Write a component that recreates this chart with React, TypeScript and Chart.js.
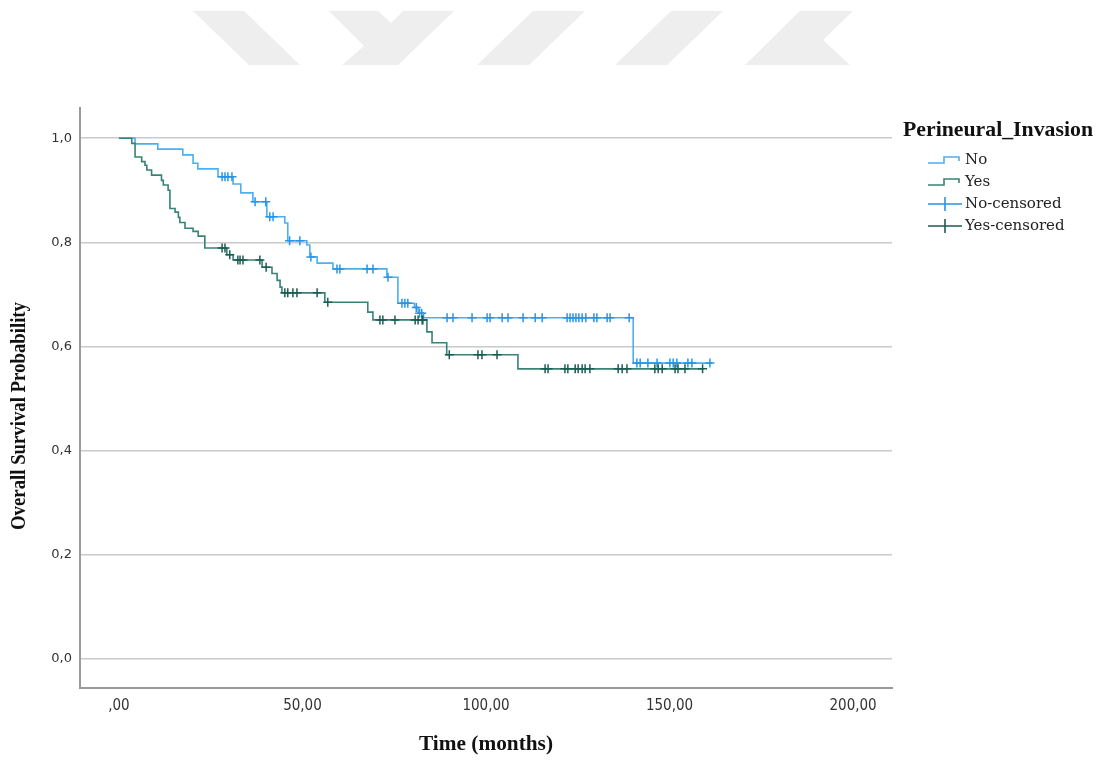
import { useEffect, useRef } from "react";
import { Chart, registerables } from "chart.js";

Chart.register(...registerables);

// ---------- data ----------
const xTickValues = [0, 50, 100, 150, 200];
const xTickLabels = [",00", "50,00", "100,00", "150,00", "200,00"];
const yTickValues = [0, 0.2, 0.4, 0.6, 0.8, 1.0];
const yTickLabels = ["0,0", "0,2", "0,4", "0,6", "0,8", "1,0"];

const legendTitle = "Perineural_Invasion";
const legendLabels = ["No", "Yes", "No-censored", "Yes-censored"];
const xTitle = "Time (months)";
const yTitle = "Overall Survival Probability";

// Kaplan-Meier steps: value after each time
const noTimes = [0, 4.4, 10.6, 17.4, 20.2, 21.5, 27.0, 31.1, 33.2, 36.5, 40.3, 45.2, 46.0, 51.2, 52.0, 54.0, 58.3, 73.0, 76.0, 80.5, 81.5, 83.0, 140.1, 161.6];
const noSurv = [1.0, 0.989, 0.979, 0.968, 0.952, 0.941, 0.926, 0.912, 0.895, 0.878, 0.849, 0.837, 0.803, 0.795, 0.772, 0.76, 0.749, 0.733, 0.683, 0.675, 0.664, 0.655, 0.568, 0.568];
const noCensorTimes = [28.1, 28.9, 29.7, 30.8, 37.1, 40.0, 41.1, 42.0, 46.5, 49.3, 52.3, 59.4, 60.2, 67.6, 69.2, 73.3, 77.1, 77.9, 78.7, 81.0, 81.9, 82.5, 89.4, 91.0, 96.2, 100.3, 101.1, 104.4, 106.0, 110.1, 113.4, 115.3, 122.1, 122.9, 123.7, 124.5, 125.3, 126.2, 127.2, 129.4, 130.2, 133.0, 133.8, 139.0, 141.1, 142.0, 144.1, 146.6, 150.1, 151.0, 152.0, 155.0, 156.1, 161.0];

const yesTimes = [0, 3.5, 4.4, 6.2, 7.1, 7.6, 8.9, 11.6, 12.1, 13.4, 13.9, 15.3, 16.2, 16.6, 18.0, 20.2, 21.6, 23.4, 29.4, 31.1, 39.0, 41.7, 43.1, 43.9, 44.4, 56.1, 67.8, 69.2, 83.9, 85.3, 89.3, 108.7, 159.3];
const yesSurv = [1.0, 0.99, 0.964, 0.955, 0.948, 0.939, 0.929, 0.919, 0.91, 0.9, 0.865, 0.858, 0.848, 0.838, 0.827, 0.821, 0.812, 0.789, 0.776, 0.766, 0.752, 0.74, 0.727, 0.714, 0.703, 0.685, 0.666, 0.651, 0.628, 0.607, 0.584, 0.557, 0.557];
const yesCensorTimes = [28.1, 28.9, 30.2, 32.4, 33.0, 33.8, 38.4, 40.1, 45.2, 46.0, 47.4, 48.5, 54.0, 56.9, 71.1, 71.9, 75.2, 80.7, 81.5, 82.6, 82.8, 90.0, 97.8, 98.9, 103.0, 116.1, 116.9, 121.5, 122.3, 124.3, 125.1, 126.2, 127.0, 128.3, 136.0, 137.1, 138.4, 146.0, 146.9, 148.0, 151.5, 152.3, 154.2, 159.0];

// ---------- styles ----------
const BLUE_LINE = "#4daef0";
const BLUE_CENSOR = "#2795e6";
const GREEN_LINE = "#3a8276";
const GREEN_CENSOR = "#1b5d53";

const X_MIN = -10.6;
const X_MAX = 210.6;
const Y_MIN = -0.056;
const Y_MAX = 1.058;

function survAt(times: number[], surv: number[], t: number) {
  let v = surv[0];
  for (let i = 0; i < times.length; i++) if (times[i] <= t) v = surv[i];
  return v;
}

function fitText(ctx: CanvasRenderingContext2D, text: string, x: number, y: number, targetW: number | null, align: "left" | "center") {
  const w = ctx.measureText(text).width;
  ctx.save();
  ctx.translate(x, y);
  let sx = 1;
  if (targetW) sx = targetW / w;
  ctx.scale(sx, 1);
  ctx.textAlign = align;
  ctx.textBaseline = "middle";
  ctx.fillText(text, 0, 0);
  ctx.restore();
}

const decorPlugin = {
  id: "decor",
  beforeDraw(chart: any) {
    const ctx: CanvasRenderingContext2D = chart.ctx;
    ctx.save();
    ctx.fillStyle = "#ffffff";
    ctx.fillRect(0, 0, chart.width, chart.height);
    // watermark shapes
    ctx.fillStyle = "#eeeeee";
    const polys: number[][][] = [
      [[193, 11], [244, 11], [300, 65], [249, 65]],
      [[329, 11], [378, 11], [391, 23], [403, 11], [454, 11], [398, 65], [342, 65], [364, 46]],
      [[533, 11], [585, 11], [529, 65], [477, 65]],
      [[671, 11], [723, 11], [667, 65], [615, 65]],
      [[800, 11], [853, 11], [823, 40], [850, 65], [745, 65]],
    ];
    for (const p of polys) {
      ctx.beginPath();
      ctx.moveTo(p[0][0], p[0][1]);
      for (let i = 1; i < p.length; i++) ctx.lineTo(p[i][0], p[i][1]);
      ctx.closePath();
      ctx.fill();
    }
    ctx.restore();
  },
  afterDraw(chart: any) {
    const ctx: CanvasRenderingContext2D = chart.ctx;
    const area = chart.chartArea;
    ctx.save();
    ctx.fillStyle = "#111111";
    // axis titles
    ctx.font = "bold 21px 'Liberation Serif', serif";
    fitText(ctx, xTitle, (area.left + area.right) / 2, 745, 134, "center");
    ctx.save();
    ctx.translate(20, 416);
    ctx.rotate(-Math.PI / 2);
    ctx.font = "bold 21px 'Liberation Serif', serif";
    fitText(ctx, yTitle, 0, 0, 228, "center");
    ctx.restore();

    // legend
    ctx.font = "bold 21px 'Liberation Serif', serif";
    fitText(ctx, legendTitle, 903, 131, 190, "left");
    const rows = [160, 182, 204, 226];
    const colors = [BLUE_LINE, GREEN_LINE, BLUE_CENSOR, GREEN_CENSOR];
    const x0 = 928, x1 = 962;
    for (let i = 0; i < 4; i++) {
      const y = rows[i];
      ctx.strokeStyle = colors[i];
      ctx.lineWidth = 1.6;
      ctx.beginPath();
      if (i < 2) {
        ctx.moveTo(x0, y + 3);
        ctx.lineTo(x0 + 16, y + 3);
        ctx.lineTo(x0 + 16, y - 3);
        ctx.lineTo(x1 - 3, y - 3);
        ctx.lineTo(x1 - 3, y + 1);
      } else {
        ctx.moveTo(x0, y);
        ctx.lineTo(x1, y);
        ctx.moveTo(x0 + 17, y - 7);
        ctx.lineTo(x0 + 17, y + 7);
      }
      ctx.stroke();
      ctx.fillStyle = "#222222";
      ctx.font = "15px 'DejaVu Serif', serif";
      fitText(ctx, legendLabels[i], 965, y, null, "left");
    }
    ctx.restore();
  },
};

function stepData(times: number[], surv: number[]) {
  return times.map((t, i) => ({ x: t, y: surv[i] }));
}
function censorData(ct: number[], times: number[], surv: number[]) {
  return ct.map((t) => ({ x: t, y: survAt(times, surv, t) }));
}

export default function App() {
  const ref = useRef<HTMLCanvasElement | null>(null);
  useEffect(() => {
    if (!ref.current) return;
    const chart = new Chart(ref.current, {
      type: "line",
      data: {
        datasets: [
          {
            label: legendLabels[0],
            data: stepData(noTimes, noSurv),
            borderColor: BLUE_LINE,
            borderWidth: 1.6,
            stepped: "before",
            pointRadius: 0,
            fill: false,
            order: 3,
          },
          {
            label: legendLabels[1],
            data: stepData(yesTimes, yesSurv),
            borderColor: GREEN_LINE,
            borderWidth: 1.6,
            stepped: "before",
            pointRadius: 0,
            fill: false,
            order: 2,
          },
          {
            label: legendLabels[2],
            data: censorData(noCensorTimes, noTimes, noSurv),
            showLine: false,
            pointStyle: "cross",
            pointRadius: 4.5,
            pointBorderWidth: 1.5,
            pointBorderColor: BLUE_CENSOR,
            borderColor: BLUE_CENSOR,
            order: 1,
          },
          {
            label: legendLabels[3],
            data: censorData(yesCensorTimes, yesTimes, yesSurv),
            showLine: false,
            pointStyle: "cross",
            pointRadius: 4.5,
            pointBorderWidth: 1.5,
            pointBorderColor: GREEN_CENSOR,
            borderColor: GREEN_CENSOR,
            order: 0,
          },
        ],
      },
      options: {
        animation: false,
        responsive: false,
        devicePixelRatio: 1,
        layout: { padding: { top: 108, right: 207, left: 0, bottom: 0 } },
        plugins: {
          legend: { display: false },
          tooltip: { enabled: false },
          title: { display: false },
        },
        scales: {
          x: {
            type: "linear",
            min: X_MIN,
            max: X_MAX,
            afterFit: (s: any) => {
              s.height = 72;
            },
            afterBuildTicks: (s: any) => {
              s.ticks = xTickValues.map((v) => ({ value: v }));
            },
            grid: { display: false, drawTicks: false },
            border: { display: true, color: "#9a9a9a", width: 2 },
            ticks: {
              padding: 9,
              color: "#333333",
              font: { family: "'Liberation Sans Narrow', 'DejaVu Sans Condensed', sans-serif", size: 15 },
              callback: (v: any) => {
                const i = xTickValues.indexOf(Number(v));
                return i >= 0 ? xTickLabels[i] : "";
              },
              maxRotation: 0,
              autoSkip: false,
            },
          },
          y: {
            type: "linear",
            min: Y_MIN,
            max: Y_MAX,
            afterFit: (s: any) => {
              s.width = 80;
            },
            afterBuildTicks: (s: any) => {
              s.ticks = yTickValues.map((v) => ({ value: v }));
            },
            grid: { color: "#cacaca", lineWidth: 1.5, drawTicks: false },
            border: { display: true, color: "#9a9a9a", width: 2 },
            ticks: {
              padding: 8,
              color: "#333333",
              font: { family: "'DejaVu Sans', sans-serif", size: 13 },
              callback: (v: any) => {
                const i = yTickValues.findIndex((t) => Math.abs(t - Number(v)) < 1e-6);
                return i >= 0 ? yTickLabels[i] : "";
              },
              autoSkip: false,
            },
          },
        },
      } as any,
      plugins: [decorPlugin],
    });
    return () => chart.destroy();
  }, []);
  return (
    <div style={{ position: "absolute", left: 0, top: 0, width: 1099, height: 760, background: "#fff" }}>
      <canvas ref={ref} width={1099} height={760} style={{ display: "block" }} />
    </div>
  );
}
